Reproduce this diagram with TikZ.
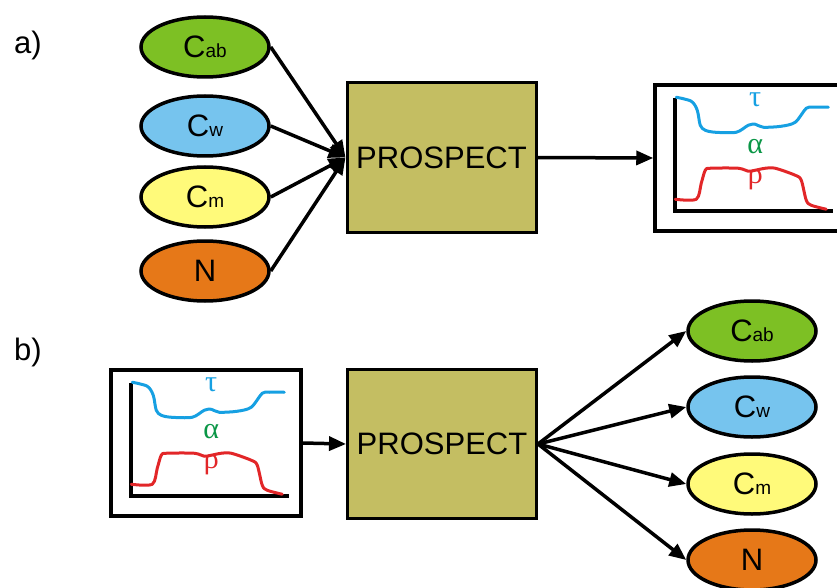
\documentclass[tikz,border=0pt]{standalone}
\usepackage{fontspec}
\setmainfont{Liberation Sans}
\newfontfamily\grk{Liberation Serif}
\usetikzlibrary{shapes.geometric,arrows.meta}

\definecolor{cabfill}{RGB}{125,192,36}
\definecolor{cwfill}{RGB}{118,196,238}
\definecolor{cmfill}{RGB}{255,250,122}
\definecolor{nfill}{RGB}{230,120,24}
\definecolor{modelfill}{RGB}{196,190,98}
\definecolor{taublue}{RGB}{22,160,226}
\definecolor{alphagreen}{RGB}{10,150,70}
\definecolor{rhored}{RGB}{226,38,40}

\tikzset{
  param/.style={ellipse, draw=black, line width=3.5pt, minimum width=128pt,
    minimum height=60pt, inner sep=0pt, font=\fontsize{31}{31}\selectfont},
  model/.style={rectangle, draw=black, line width=3pt, fill=modelfill,
    minimum width=189pt, minimum height=149pt, inner sep=0pt,
    font=\fontsize{31}{31}\selectfont},
  chartbox/.style={rectangle, draw=black, line width=3.5pt, minimum width=190pt,
    minimum height=146pt, inner sep=0pt},
  link/.style={line width=3.5pt, -{Triangle[length=17pt,width=14pt]}},
  axis/.style={line width=4pt},
  curve/.style={line width=3pt, line join=round, line cap=round},
  glyph/.style={font=\grk\fontsize{30}{30}\selectfont, inner sep=0pt},
  tag/.style={font=\fontsize{31}{31}\selectfont, inner sep=0pt}
}
\newcommand{\subt}[1]{{\fontsize{19}{19}\selectfont #1}}

% spectral chart drawn inside a chart box, origin at its north-west corner
\newcommand{\spectra}[1]{%
  \begin{scope}[shift={(#1.north west)}]
    \draw[axis] (22,15) -- (22,128) -- (180,128);
    \draw[curve, taublue] plot[smooth, tension=0.5] coordinates {
      (23,14) (38,18) (44,27) (47,42) (52,47) (62,49) (83,49) (95,42)
      (102,41) (110,44) (128,43) (142,39) (153,25) (160,24) (175,24)};
    \draw[curve, rhored] plot[smooth, tension=0.5] coordinates {
      (22,116) (43,116) (48,100) (52,87) (57,85) (85,85) (95,88) (102,87)
      (112,85) (122,85) (142,92) (148,97) (153,117) (158,122) (173,126)};
    \node[glyph, text=taublue] at (102,17) {τ};
    \node[glyph, text=alphagreen] at (102,63) {α};
    \node[glyph, text=rhored] at (102,96) {ρ};
  \end{scope}}

\begin{document}
\begin{tikzpicture}[x=1pt, y=-1pt]
  \useasboundingbox (0,0) rectangle (837,588);

  % ---- a) forward model ----
  \node[tag] (la) at (28,45) {a)};
  \node[param, fill=cabfill] (cabA) at (205,47)  {C\subt{ab}};
  \node[param, fill=cwfill]  (cwA)  at (205,126) {C\subt{w}};
  \node[param, fill=cmfill]  (cmA)  at (205,197) {C\subt{m}};
  \node[param, fill=nfill]   (nA)   at (205,271) {N};
  \node[model] (modelA) at (441.5,157.5) {PROSPECT};
  \node[chartbox] (specA) at (750,158) {};
  \spectra{specA}

  \foreach \p in {cabA,cwA,cmA,nA}
    \draw[link] (\p.east) -- (modelA.west);
  \draw[link] (modelA.east) -- (specA.west);

  % ---- b) inversion ----
  \node[tag] (lb) at (28,352) {b)};
  \node[chartbox] (specB) at (206,443) {};
  \spectra{specB}
  \node[model] (modelB) at (442,444) {PROSPECT};
  \node[param, fill=cabfill] (cabB) at (752,331) {C\subt{ab}};
  \node[param, fill=cwfill]  (cwB)  at (752,407) {C\subt{w}};
  \node[param, fill=cmfill]  (cmB)  at (752,484) {C\subt{m}};
  \node[param, fill=nfill]   (nB)   at (752,560) {N};

  \draw[link] (specB.east) -- (modelB.west);
  \foreach \p in {cabB,cwB,cmB,nB}
    \draw[link] (modelB.east) -- (\p.west);
\end{tikzpicture}
\end{document}
